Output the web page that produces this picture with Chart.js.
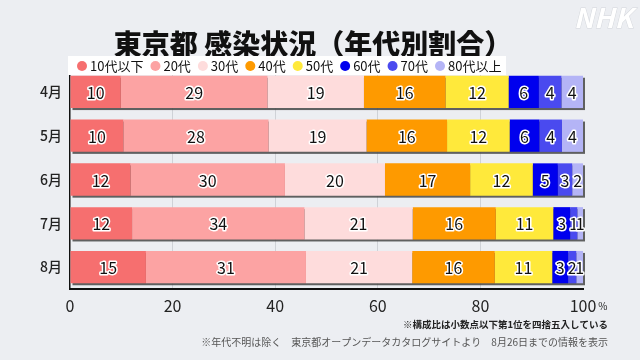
<!DOCTYPE html>
<html>
<head>
<meta charset="utf-8">
<script src="https://cdn.jsdelivr.net/npm/chart.js@4.4.0/dist/chart.umd.min.js"></script>
<style>
  html, body { margin: 0; padding: 0; background: #eceef2; }
  #wrap { width: 640px; height: 360px; position: relative; }
</style>
</head>
<body>
<div id="wrap"><canvas id="myChart" width="640" height="360"></canvas></div>
<script>
// months (rows) and age groups (stack segments), values in %
var months = ["4月", "5月", "6月", "7月", "8月"];
var ageGroups = ["10代以下", "20代", "30代", "40代", "50代", "60代", "70代", "80代以上"];

var age10 = [9.9, 10.4, 11.8, 12.1, 14.8];
var age20 = [28.6, 28.3, 30.1, 33.6, 31.2];
var age30 = [18.8, 19.1, 19.5, 21.1, 20.7];
var age40 = [15.9, 15.7, 16.6, 16.2, 16.1];
var age50 = [12.3, 12.2, 12.2, 11.2, 11.2];
var age60 = [5.9, 5.8, 4.9, 3.3, 3.1];
var age70 = [4.4, 4.4, 2.8, 1.4, 1.6];
var age80 = [4.2, 4.1, 2.1, 1.1, 1.3];

var xTicks = [0, 20, 40, 60, 80, 100];

var barColors = [
  "#f66f6f",
  "#fca3a3",
  "#fedcdc",
  "#fe9a00",
  "#ffe93b",
  "#0000ee",
  "#4a4aef",
  "#b4b4f6"
];

var series = [age10, age20, age30, age40, age50, age60, age70, age80];
var JP = '"Noto Sans CJK JP", "Noto Sans", sans-serif';
var titleText = "東京都 感染状況（年代別割合）";

var datasets = series.map(function (vals, i) {
  return {
    label: ageGroups[i],
    data: vals,
    backgroundColor: barColors[i],
    borderWidth: 0,
    barPercentage: 0.82,
    categoryPercentage: 0.9
  };
});

// title, shadows, value labels, legend and notes
var decor = {
  id: "decor",
  beforeDatasetsDraw: function (chart) {
    var ctx = chart.ctx;
    var first = chart.getDatasetMeta(0).data;
    var last = chart.getDatasetMeta(chart.data.datasets.length - 1).data;
    ctx.save();
    ctx.fillStyle = "rgba(70,70,70,0.85)";
    first.forEach(function (bar, i) {
      var x0 = bar.base;
      var x1 = last[i].x;
      var h = bar.height;
      ctx.fillRect(x0 + 2, bar.y - h / 2 + 2, x1 - x0, h);
    });
    ctx.restore();
  },
  afterDatasetsDraw: function (chart) {
    var ctx = chart.ctx;
    ctx.save();
    ctx.font = "16px " + JP;
    ctx.textAlign = "center";
    ctx.textBaseline = "middle";
    ctx.lineJoin = "round";
    chart.data.datasets.forEach(function (ds, di) {
      chart.getDatasetMeta(di).data.forEach(function (bar, i) {
        var txt = String(Math.round(ds.data[i]));
        var cx = (bar.x + bar.base) / 2;
        ctx.lineWidth = 3;
        ctx.strokeStyle = "#ffffff";
        ctx.strokeText(txt, cx, bar.y + 1);
        ctx.fillStyle = "#111111";
        ctx.fillText(txt, cx, bar.y + 1);
      });
    });
    ctx.restore();
  },
  afterDraw: function (chart) {
    var ctx = chart.ctx;
    var xs = chart.scales.x;
    ctx.save();

    // title
    ctx.font = "900 28px " + JP;
    ctx.textAlign = "center";
    ctx.textBaseline = "middle";
    ctx.fillStyle = "#111111";
    ctx.fillText(titleText, 313, 44);

    // legend
    ctx.fillStyle = "#ffffff";
    ctx.fillRect(68, 56, 438, 19);
    ctx.font = "13px " + JP;
    ctx.textAlign = "left";
    var lx = 77;
    chart.data.datasets.forEach(function (ds) {
      ctx.fillStyle = ds.backgroundColor;
      ctx.beginPath();
      ctx.arc(lx + 5, 66, 5, 0, Math.PI * 2);
      ctx.fill();
      ctx.fillStyle = "#111111";
      ctx.fillText(ds.label, lx + 13, 66);
      lx += 13 + ctx.measureText(ds.label).width + 7;
    });

    // small % after 100
    ctx.font = "16px " + JP;
    var w100 = ctx.measureText("100").width;
    ctx.font = "10px " + JP;
    ctx.fillStyle = "#222222";
    ctx.fillText("%", xs.getPixelForValue(100) + w100 / 2 + 2, 306);

    // notes
    ctx.textAlign = "right";
    ctx.font = "bold 9.5px " + JP;
    ctx.fillStyle = "#222222";
    ctx.fillText("※構成比は小数点以下第1位を四捨五入している", 608, 324);
    ctx.font = "10px " + JP;
    ctx.fillStyle = "#555555";
    ctx.fillText("※年代不明は除く　東京都オープンデータカタログサイトより　8月26日までの情報を表示", 608, 342);

    // logo
    ctx.font = "italic bold 27px " + JP;
    ctx.lineWidth = 1;
    ctx.strokeStyle = "#d4d7dc";
    ctx.fillStyle = "#ffffff";
    ctx.strokeText("NHK", 633, 18);
    ctx.fillText("NHK", 633, 18);
    ctx.restore();
  }
};

new Chart("myChart", {
  type: "bar",
  data: {
    labels: months,
    datasets: datasets
  },
  options: {
    indexAxis: "y",
    responsive: false,
    animation: false,
    devicePixelRatio: 1,
    layout: { padding: { left: 32, right: 57, top: 70, bottom: 41 } },
    plugins: {
      legend: { display: false },
      tooltip: { enabled: false },
      title: { display: false }
    },
    scales: {
      x: {
        stacked: true,
        min: 0,
        max: 100,
        afterFit: function (s) { s.height = 30; },
        afterBuildTicks: function (s) {
          s.ticks = xTicks.map(function (v) { return { value: v }; });
        },
        grid: {
          drawTicks: false,
          color: function (c) {
            return (c.tick && (c.tick.value === 0 || c.tick.value === 100)) ? "rgba(0,0,0,0)" : "#cfd2d7";
          }
        },
        border: { display: true, color: "#111111", width: 2 },
        ticks: {
          padding: 7,
          color: "#222222",
          font: { family: JP, size: 16 },
          callback: function (v) { return String(v); }
        }
      },
      y: {
        stacked: true,
        afterFit: function (s) { s.width = 38; },
        grid: { display: false, drawTicks: false },
        border: { display: true, color: "#111111", width: 1.5 },
        ticks: {
          padding: 8,
          color: "#222222",
          font: { family: JP, size: 14, weight: "500" }
        }
      }
    }
  },
  plugins: [decor]
});
</script>
</body>
</html>
